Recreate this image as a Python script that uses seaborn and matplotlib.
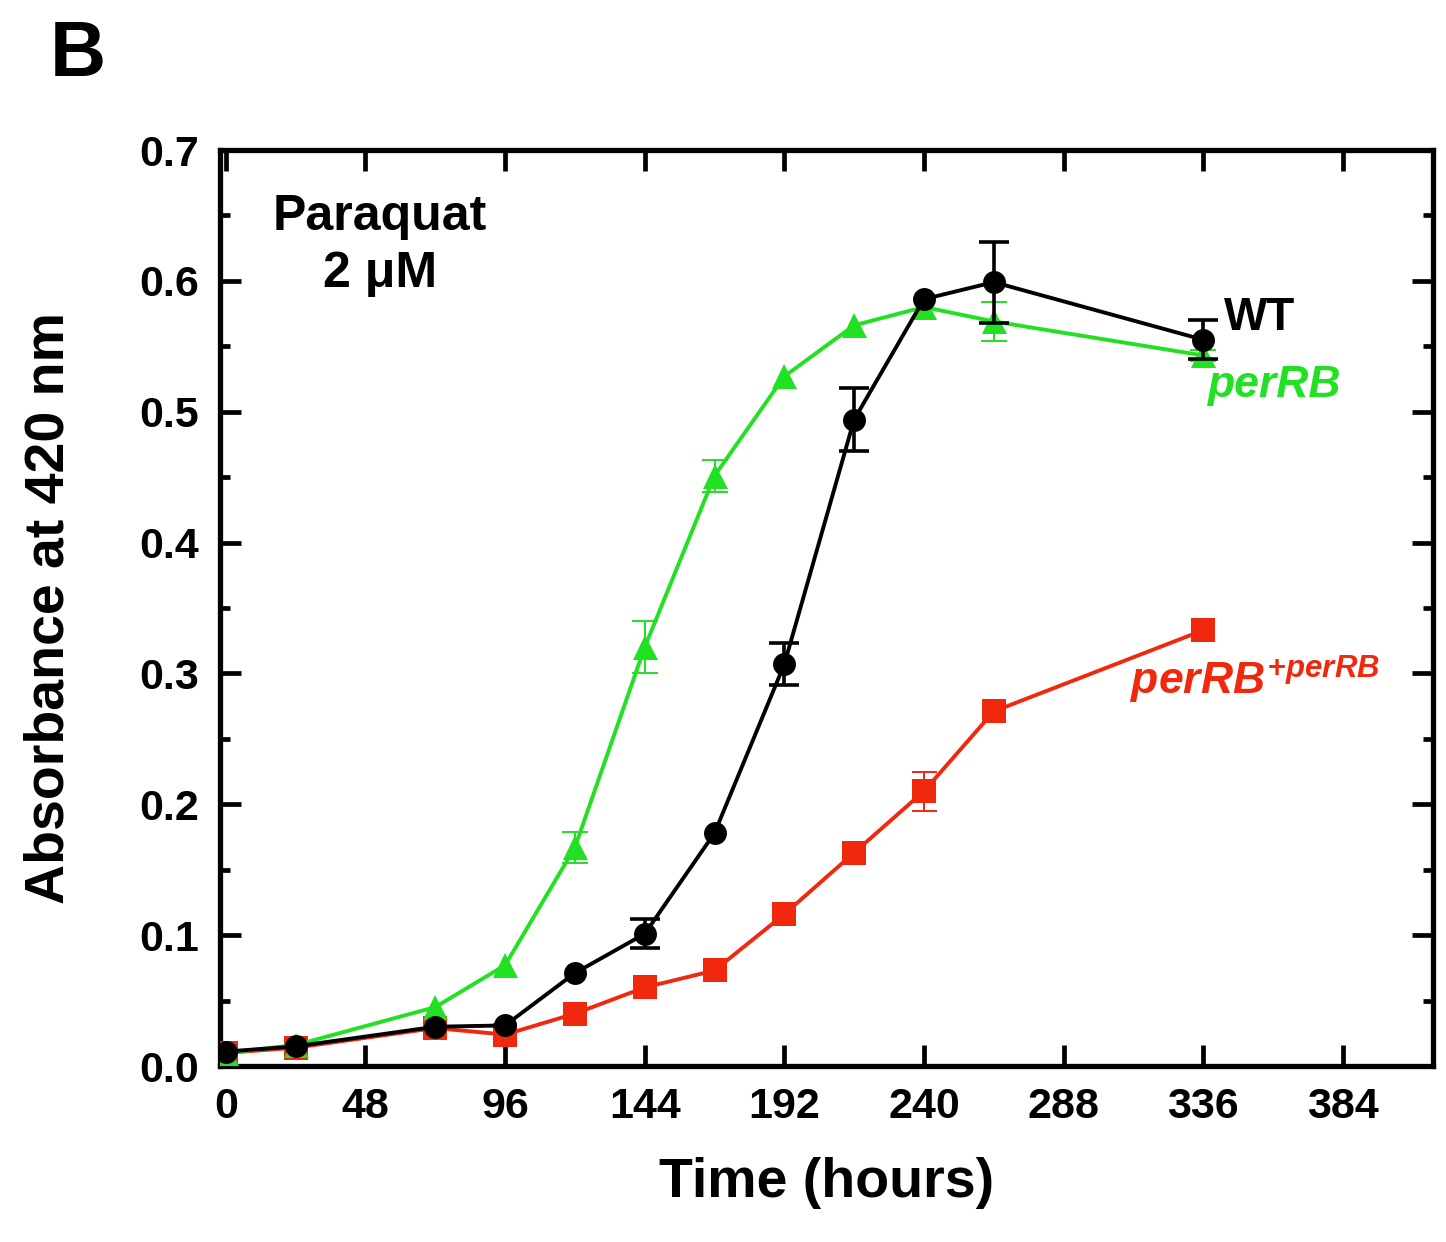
import numpy as np
import pandas as pd
import matplotlib
matplotlib.use("Agg")
import matplotlib.pyplot as plt
import seaborn as sns
from matplotlib.ticker import MultipleLocator

# ---------------- data ----------------
time_h = [0, 24, 72, 96, 120, 144, 168, 192, 216, 240, 264, 336]

wt_abs = [0.011, 0.015, 0.030, 0.031, 0.071, 0.101, 0.178, 0.307, 0.494, 0.586, 0.599, 0.555]
wt_err = [0.0, 0.0, 0.0, 0.0, 0.0, 0.011, 0.0, 0.016, 0.024, 0.0, 0.031, 0.015]

perRB_abs = [0.010, 0.016, 0.045, 0.077, 0.167, 0.320, 0.451, 0.527, 0.566, 0.580, 0.569, 0.543]
perRB_err = [0.0, 0.0, 0.0, 0.0, 0.012, 0.020, 0.012, 0.0, 0.0, 0.0, 0.015, 0.004]

comp_abs = [0.010, 0.014, 0.029, 0.024, 0.040, 0.060, 0.073, 0.116, 0.163, 0.210, 0.271, 0.333]
comp_err = [0.0, 0.0, 0.0, 0.0, 0.0, 0.0, 0.0, 0.0, 0.0, 0.015, 0.0, 0.0]

strains = ["perRB+perRB", "perRB", "WT"]
x_ticks = [0, 48, 96, 144, 192, 240, 288, 336, 384]
y_ticks = [0.0, 0.1, 0.2, 0.3, 0.4, 0.5, 0.6, 0.7]

df = pd.DataFrame({
    "time": time_h * 3,
    "absorbance": comp_abs + perRB_abs + wt_abs,
    "err": comp_err + perRB_err + wt_err,
    "strain": [strains[0]] * len(time_h) + [strains[1]] * len(time_h) + [strains[2]] * len(time_h),
})

colors = {"perRB+perRB": "#F0280E", "perRB": "#22E022", "WT": "#000000"}
markers = {"perRB+perRB": "s", "perRB": "^", "WT": "o"}
msizes = {"perRB+perRB": 17, "perRB": 18, "WT": 16.5}
zorders = {"perRB+perRB": 3, "perRB": 4, "WT": 5}
eb_lw = {"perRB+perRB": 1.4, "perRB": 1.4, "WT": 2.6}
capsz = {"perRB+perRB": 9, "perRB": 9.5, "WT": 10.5}

# ---------------- style ----------------
sns.set_style("ticks")
plt.rcParams["font.family"] = ["Liberation Sans", "DejaVu Sans"]
plt.rcParams["font.weight"] = "bold"
plt.rcParams["text.color"] = "black"
plt.rcParams["axes.labelcolor"] = "black"
plt.rcParams["xtick.color"] = "black"
plt.rcParams["ytick.color"] = "black"
plt.rcParams["xtick.labelcolor"] = "black"
plt.rcParams["ytick.labelcolor"] = "black"
plt.rcParams["mathtext.fontset"] = "custom"
plt.rcParams["mathtext.it"] = "Liberation Sans:italic:bold"
plt.rcParams["mathtext.rm"] = "Liberation Sans:bold"
plt.rcParams["mathtext.bf"] = "Liberation Sans:bold"

fig = plt.figure(figsize=(14.46, 12.42), dpi=100)
ax = fig.add_axes([220 / 1446, 1 - 1066 / 1242, 1213 / 1446, 916 / 1242])

for s in strains:
    sub = df[df["strain"] == s]
    err = sub["err"].to_numpy()
    mask = err > 0
    ax.errorbar(sub["time"].to_numpy()[mask], sub["absorbance"].to_numpy()[mask],
                yerr=err[mask], fmt="none", ecolor=colors[s], elinewidth=eb_lw[s],
                capsize=capsz[s], capthick=eb_lw[s], zorder=zorders[s] - 0.5)
    sns.lineplot(data=sub, x="time", y="absorbance", color=colors[s],
                 marker=markers[s], markersize=msizes[s], markeredgewidth=0,
                 linewidth=2.8, ax=ax, zorder=zorders[s], legend=False,
                 errorbar=None)

ax.set_xlim(-2, 415)
ax.set_ylim(0, 0.7)
ax.set_xticks(x_ticks)
ax.set_yticks(y_ticks)
ax.set_yticklabels([f"{v:.1f}" for v in y_ticks])
ax.yaxis.set_minor_locator(MultipleLocator(0.05))

for sp in ax.spines.values():
    sp.set_linewidth(3.8)
    sp.set_visible(True)
    sp.set_color("black")

ax.tick_params(axis="both", which="major", direction="in", length=15, width=3.4,
               labelsize=31, pad=15, top=True, right=True, color="black", labelcolor="black")
ax.tick_params(axis="both", which="minor", direction="in", length=7.5, width=3.4,
               top=True, right=True, color="black")
for lab in ax.get_xticklabels() + ax.get_yticklabels():
    lab.set_fontweight("bold")

ax.set_xlabel("Time (hours)", fontsize=40, fontweight="bold", labelpad=22, color="black")
ax.set_ylabel("Absorbance at 420 nm", fontsize=40, fontweight="bold", labelpad=46, color="black")

# annotations
ax.text(53, 0.639, "Paraquat", fontsize=36, fontweight="bold", ha="center", va="baseline", color="black")
ax.text(53, 0.595, "2 \u03bcM", fontsize=36, fontweight="bold", ha="center", va="baseline", color="black")
ax.text(343, 0.5625, "WT", fontsize=33, fontweight="bold", ha="left", va="baseline", color=colors["WT"])
ax.text(337.5, 0.511, "perRB", fontsize=32, fontweight="bold", style="italic", ha="left",
        va="baseline", color=colors["perRB"])
ax.text(311, 0.284, r"$\mathit{perRB}^{\mathit{+perRB}}$", fontsize=32, ha="left",
        va="baseline", color=colors["perRB+perRB"])

fig.text(50 / 1446, 1 - 76 / 1242, "B", fontsize=56, fontweight="bold", ha="left",
         va="baseline", color="black")

fig.savefig("out.png", dpi=100, facecolor="white")
